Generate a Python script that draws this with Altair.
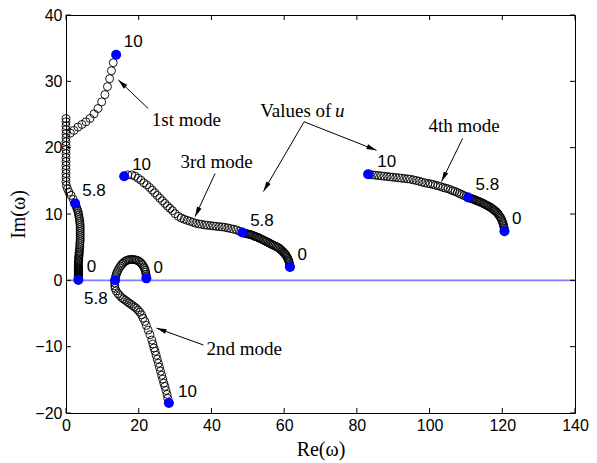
import math
import altair as alt
import pandas as pd

# ---------------- data ----------------
mode1 = [
    (3.4, 0.0), (3.4, 0.1), (3.4, 0.2), (3.4, 0.3), (3.4, 0.4), (3.4, 0.5), (3.4, 0.6), (3.4, 0.7),
    (3.4, 0.8), (3.4, 0.9), (3.4, 1.0), (3.4, 1.1), (3.4, 1.2), (3.4, 1.3), (3.4, 1.4), (3.4, 1.5),
    (3.4, 1.6), (3.4, 1.7), (3.4, 1.8), (3.4, 1.9), (3.4, 2.0), (3.4, 2.2), (3.4, 2.4), (3.4, 2.6),
    (3.4, 2.8), (3.5, 3.0), (3.5, 3.2), (3.5, 3.4), (3.5, 3.6), (3.6, 3.8), (3.6, 4.0), (3.6, 4.2),
    (3.7, 4.4), (3.7, 4.7), (3.8, 5.0), (3.8, 5.3), (3.8, 5.6), (3.9, 5.9), (3.9, 6.2), (3.9, 6.5),
    (3.9, 6.8), (3.9, 7.1), (3.9, 7.4), (3.9, 7.7), (3.9, 8.0), (3.9, 8.3), (3.8, 8.6), (3.8, 8.9),
    (3.7, 9.2), (3.6, 9.5), (3.5, 9.8), (3.4, 10.1), (3.3, 10.4), (3.1, 10.7), (2.9, 11.0), (2.7, 11.3),
    (2.5, 11.6),
    (2.0, 12.2), (1.4, 12.8), (0.8, 13.3), (0.4, 13.8), (0.1, 14.3), (0.0, 14.9), (0.0, 15.5), (0.0, 16.1),
    (0.0, 16.7), (0.0, 17.3), (0.0, 17.9), (0.0, 18.5), (0.0, 19.1), (0.0, 19.7), (0.0, 20.3), (0.0, 20.9),
    (0.0, 21.5), (0.0, 22.1), (0.0, 22.7), (0.0, 23.3), (0.0, 23.9), (0.0, 24.4),
    (1.2, 22.2), (2.2, 22.6), (3.3, 23.1), (4.4, 23.5), (5.5, 23.9), (6.6, 24.4), (7.7, 25.1), (8.8, 25.9),
    (9.8, 26.9), (10.7, 28.0), (11.4, 29.2), (12.0, 30.4), (12.5, 31.6), (13.0, 32.8), (13.8, 34.0),
]

mode2 = [
    (22.1, 0.3), (22.1, 0.6), (22.0, 0.9), (21.9, 1.2), (21.8, 1.5), (21.6, 1.8), (21.4, 2.0), (21.1, 2.3),
    (20.8, 2.5), (20.5, 2.7), (20.1, 2.85), (19.7, 3.0), (19.3, 3.05), (18.9, 3.1), (18.5, 3.15), (18.1, 3.15),
    (17.7, 3.15), (17.3, 3.1), (16.9, 3.05), (16.5, 2.95), (16.1, 2.8), (15.7, 2.6), (15.3, 2.4), (15.0, 2.15),
    (14.7, 1.9), (14.4, 1.6), (14.1, 1.3), (13.9, 1.0), (13.7, 0.7), (13.6, 0.4), (13.5, 0.0),
    (13.4, -0.4), (13.4, -0.8), (13.5, -1.2), (13.8, -1.6), (14.3, -2.0), (14.8, -2.3), (15.3, -2.6), (15.8, -2.8),
    (16.3, -3.0), (16.8, -3.2), (17.3, -3.4), (17.8, -3.6), (18.3, -3.8), (18.8, -4.0), (19.3, -4.2), (19.8, -4.5),
    (20.3, -4.8), (20.8, -5.2), (21.2, -5.7), (21.7, -6.2), (22.1, -6.8), (22.6, -7.5), (23.1, -8.2), (23.6, -9.0),
    (23.9, -9.6), (24.2, -10.2), (24.5, -10.7), (24.8, -11.3), (25.1, -11.9), (25.4, -12.5), (25.7, -13.1),
    (26.0, -13.7), (26.3, -14.3), (26.6, -14.9), (26.9, -15.5), (27.2, -16.0), (27.5, -16.6), (27.8, -17.2),
    (28.0, -17.8), (28.3, -18.5),
]

mode3 = [
    (61.6, 2.0), (61.55, 2.2), (61.5, 2.4), (61.4, 2.65), (61.3, 2.9), (61.15, 3.1), (61.0, 3.3), (60.8, 3.5),
    (60.6, 3.7), (60.4, 3.85), (60.2, 4.0), (59.95, 4.15), (59.7, 4.3), (59.4, 4.45), (59.1, 4.6), (58.8, 4.75),
    (58.5, 4.9), (58.15, 5.0), (57.8, 5.1), (57.4, 5.2), (57.0, 5.3), (56.65, 5.4), (56.3, 5.5), (55.95, 5.6),
    (55.6, 5.7), (55.25, 5.8), (54.9, 5.9), (54.55, 6.0), (54.2, 6.1), (53.8, 6.2), (53.4, 6.3), (53.05, 6.4),
    (52.7, 6.5), (52.35, 6.55), (52.0, 6.6), (51.65, 6.7), (51.3, 6.8), (50.95, 6.85), (50.6, 6.9), (50.25, 6.95),
    (49.9, 7.0), (49.55, 7.05), (49.2, 7.1), (48.85, 7.15), (48.5, 7.2),
    (47.7, 7.4), (46.9, 7.6), (46.1, 7.7), (45.3, 7.8), (44.5, 7.9), (43.7, 8.0), (42.9, 8.05), (42.1, 8.1),
    (41.3, 8.15), (40.5, 8.2), (39.7, 8.25), (38.9, 8.3), (38.1, 8.35), (37.3, 8.45), (36.5, 8.5), (35.7, 8.6),
    (34.9, 8.75), (34.1, 8.9), (33.3, 9.05), (32.5, 9.2), (31.7, 9.4), (30.9, 9.65), (30.0, 10.05), (29.3, 10.5),
    (28.6, 10.85), (27.9, 11.2), (27.2, 11.6), (26.5, 12.0), (25.8, 12.4), (25.1, 12.8), (24.4, 13.2), (23.7, 13.6),
    (23.0, 14.0), (22.2, 14.4), (21.4, 14.7), (20.6, 15.1), (19.8, 15.4), (19.0, 15.7), (18.1, 15.9), (17.0, 15.9),
    (16.0, 15.7),
]

mode4 = [
    (120.6, 7.4), (120.55, 7.65), (120.5, 7.9), (120.4, 8.15), (120.3, 8.4), (120.15, 8.65), (120.0, 8.9),
    (119.8, 9.15), (119.6, 9.4), (119.35, 9.6), (119.1, 9.8), (118.85, 10.0), (118.6, 10.2), (118.3, 10.35),
    (118.0, 10.5), (117.7, 10.6), (117.4, 10.75), (117.1, 10.85), (116.8, 11.0), (116.45, 11.1), (116.1, 11.2),
    (115.75, 11.3), (115.4, 11.4), (115.05, 11.5), (114.7, 11.6), (114.35, 11.7), (114.0, 11.8), (113.65, 11.85),
    (113.3, 11.95), (112.95, 12.0), (112.6, 12.1), (112.25, 12.2), (111.9, 12.25), (111.55, 12.3), (111.2, 12.4),
    (110.9, 12.45), (110.6, 12.5),
    (110.0, 12.65), (109.4, 12.8), (108.8, 12.95), (108.2, 13.1), (107.6, 13.25), (107.0, 13.4), (106.4, 13.5),
    (105.8, 13.65), (105.1, 13.8), (104.4, 13.9), (103.7, 14.0), (103.0, 14.15), (102.3, 14.25), (101.6, 14.35),
    (100.9, 14.45), (100.2, 14.55), (99.5, 14.6), (98.7, 14.7), (97.9, 14.8), (97.1, 14.95), (96.3, 15.05),
    (95.5, 15.15), (94.7, 15.25), (93.9, 15.3), (93.1, 15.35), (92.3, 15.4), (91.5, 15.45), (90.7, 15.5),
    (89.9, 15.55), (89.1, 15.6), (88.3, 15.65), (87.5, 15.7), (86.7, 15.75), (85.9, 15.8), (85.1, 15.85),
    (84.3, 15.9), (83.6, 15.95), (83.1, 16.0),
]

# marked values of u (0, 5.8, 10) for each mode
key_re = [3.4, 2.5, 13.8, 22.1, 13.5, 28.3, 61.6, 48.5, 16.0, 120.6, 110.6, 83.1]
key_im = [0.1, 11.6, 34.0, 0.3, 0.0, -18.5, 2.0, 7.2, 15.7, 7.4, 12.5, 16.0]

label_text = ["0", "5.8", "10", "0", "5.8", "10", "0", "5.8", "10", "0", "5.8", "10"]
label_re = [7.0, 7.7, 18.5, 25.4, 8.2, 33.4, 65.0, 53.9, 20.8, 124.0, 115.9, 88.2]
label_im = [2.0, 13.4, 35.9, 1.9, -2.8, -16.8, 3.8, 9.0, 17.4, 9.3, 14.4, 17.8]

ann_text = ["1st mode", "2nd mode", "3rd mode", "4th mode"]
ann_re = [33.1, 49.0, 41.4, 109.5]
ann_im = [24.2, -10.3, 17.8, 23.2]

values_re = [53.4, 74.0]
values_im = [25.5, 25.5]

arrow_tail_re = [22.6, 37.8, 41.0, 109.1, 65.5, 65.5]
arrow_tail_im = [25.9, -9.75, 16.1, 21.4, 23.9, 23.9]
arrow_head_re = [14.4, 24.9, 35.5, 103.3, 54.3, 85.4]
arrow_head_im = [30.2, -7.2, 9.6, 14.9, 13.4, 19.6]

x_ticks = [0, 20, 40, 60, 80, 100, 120, 140]
y_ticks = [-20, -10, 0, 10, 20, 30, 40]

# ---------------- chart ----------------
W, H = 509, 398
XDOM, YDOM = [0, 140], [-20, 40]

pts = pd.DataFrame(
    [{"x": a, "y": b, "mode": "1"} for a, b in mode1]
    + [{"x": a, "y": b, "mode": "2"} for a, b in mode2]
    + [{"x": a, "y": b, "mode": "3"} for a, b in mode3]
    + [{"x": a, "y": b, "mode": "4"} for a, b in mode4]
)
keys = pd.DataFrame({"x": key_re, "y": key_im})
labels = pd.DataFrame({"x": label_re, "y": label_im, "t": label_text})
anns = pd.DataFrame({"x": ann_re, "y": ann_im, "t": ann_text})

sx, sy = W / (XDOM[1] - XDOM[0]), H / (YDOM[1] - YDOM[0])
angs = []
for tx, ty, hx, hy in zip(arrow_tail_re, arrow_tail_im, arrow_head_re, arrow_head_im):
    dxp = (hx - tx) * sx
    dyp = -(hy - ty) * sy
    angs.append(math.degrees(math.atan2(dxp, -dyp)) % 360)
arrows = pd.DataFrame({"x": arrow_tail_re, "y": arrow_tail_im,
                       "x2": arrow_head_re, "y2": arrow_head_im, "ang": angs})

xs = alt.Scale(domain=XDOM, nice=False, zero=False)
ys = alt.Scale(domain=YDOM, nice=False, zero=False)
x_axis = alt.Axis(values=x_ticks, title="Re(ω)", titlePadding=6)
y_axis = alt.Axis(values=y_ticks, title="Im(ω)", titlePadding=6)


def X(f):
    return alt.X(f, type="quantitative", scale=xs, axis=x_axis)


def Y(f):
    return alt.Y(f, type="quantitative", scale=ys, axis=y_axis)


zero_line = alt.Chart(pd.DataFrame({"y": [0]})).mark_rule(
    color="#7f7fff", strokeWidth=1.6
).encode(y=Y("y"), x=alt.value(0), x2=alt.value(W))

circles = alt.Chart(pts).mark_point(
    shape="circle", filled=False, color="black", strokeWidth=0.9, size=64, opacity=1
).encode(x=X("x"), y=Y("y"))

blue = alt.Chart(keys).mark_circle(color="#0000ff", size=100, opacity=1).encode(x=X("x"), y=Y("y"))

num_labels = alt.Chart(labels).mark_text(
    font="Liberation Sans", fontSize=17, color="black", align="center", baseline="middle"
).encode(x=X("x"), y=Y("y"), text="t:N")

ann_labels = alt.Chart(anns).mark_text(
    font="Liberation Serif", fontSize=19, color="black", align="center", baseline="middle"
).encode(x=X("x"), y=Y("y"), text="t:N")

values_lbl = alt.Chart(pd.DataFrame({"x": values_re, "y": values_im, "t": ["Values of", "u"],
                                     "st": ["normal", "italic"]})).mark_text(
    font="Liberation Serif", fontSize=19, color="black", align="left", baseline="middle"
).encode(x=X("x"), y=Y("y"), text="t:N")

values_lbl1 = alt.Chart(pd.DataFrame({"x": values_re[:1], "y": values_im[:1], "t": ["Values of"]})).mark_text(
    font="Liberation Serif", fontSize=19, color="black", align="left", baseline="middle"
).encode(x=X("x"), y=Y("y"), text="t:N")
values_lbl2 = alt.Chart(pd.DataFrame({"x": values_re[1:], "y": values_im[1:], "t": ["u"]})).mark_text(
    font="Liberation Serif", fontSize=19, fontStyle="italic", color="black", align="left", baseline="middle"
).encode(x=X("x"), y=Y("y"), text="t:N")

arrow_lines = alt.Chart(arrows).mark_rule(color="black", strokeWidth=1).encode(
    x=X("x"), y=Y("y"), x2="x2:Q", y2="y2:Q"
)
arrow_heads = alt.Chart(arrows).mark_point(
    shape="M0,0L0.5,2L-0.5,2Z", filled=True, color="black", size=100, opacity=1
).encode(x=X("x2"), y=Y("y2"), angle=alt.Angle("ang:Q", scale=None))

tick_df_x = pd.DataFrame({"t": x_ticks})
tick_df_y = pd.DataFrame({"t": y_ticks})
tx_bottom = alt.Chart(tick_df_x).mark_rule(color="black").encode(x=X("t"), y=alt.value(H), y2=alt.value(H - 5))
tx_top = alt.Chart(tick_df_x).mark_rule(color="black").encode(x=X("t"), y=alt.value(0), y2=alt.value(5))
ty_left = alt.Chart(tick_df_y).mark_rule(color="black").encode(y=Y("t"), x=alt.value(0), x2=alt.value(5))
ty_right = alt.Chart(tick_df_y).mark_rule(color="black").encode(y=Y("t"), x=alt.value(W), x2=alt.value(W - 5))

chart = alt.layer(
    zero_line, tx_bottom, tx_top, ty_left, ty_right, circles, blue,
    arrow_lines, arrow_heads, num_labels, ann_labels, values_lbl1, values_lbl2
).properties(
    width=W, height=H,
    padding={"left": 66, "top": 15, "right": 22, "bottom": 50},
    autosize=alt.AutoSizeParams(type="none"),
    background="white",
).configure_view(
    stroke="black", strokeWidth=1
).configure_axis(
    domain=False, ticks=False, grid=False,
    labelFont="Liberation Sans", labelFontSize=16, labelColor="black", labelPadding=4, labelFlush=False,
    titleFont="Liberation Serif", titleFontSize=20, titleFontWeight="normal", titleColor="black",
)

chart.save("out.html", embed_options={"renderer": "svg", "actions": False})
